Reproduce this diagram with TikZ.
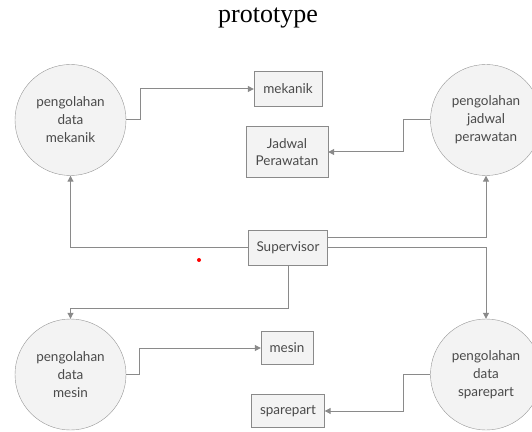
\documentclass[tikz,border=0pt]{standalone}
\usepackage{fontspec}
\setmainfont{Liberation Serif}
\newfontfamily\boxfont{Lato}
\usetikzlibrary{arrows.meta,positioning}
\definecolor{linegray}{HTML}{8A8A8A}
\definecolor{fillgray}{HTML}{F3F3F3}
\definecolor{textgray}{HTML}{4A4A4A}
\begin{document}
\begin{tikzpicture}[x=1pt, y=1pt, node distance={15mm},
    proc/.style = {draw=linegray!90, fill=fillgray, circle, minimum size=111pt, inner sep=0pt,
        align=center, text=textgray, font=\boxfont\fontsize{13.5}{18}\selectfont},
    store/.style = {draw=linegray, fill=fillgray, rectangle, inner sep=0pt, align=center,
        text=textgray, font=\boxfont\fontsize{13.5}{17}\selectfont},
    flow/.style = {draw=linegray, line width=1pt, -{Triangle[length=6pt, width=6pt]}}]
    \useasboundingbox (0,0) rectangle (532,431);
    \node[font=\fontsize{26}{30}\selectfont, anchor=base] (title) at (268,408) {prototype};

    \node[proc] (mekc) at (70.5,311) {pengolahan\\data\\mekanik};
    \node[proc] (jadc) at (486,311) {pengolahan\\jadwal\\perawatan};
    \node[proc] (mesc) at (70.5,56.5) {pengolahan\\data\\mesin};
    \node[proc] (spac) at (486,56.5) {pengolahan\\data\\sparepart};

    \node[store, minimum width=79pt, minimum height=35pt] (sup) at (288,183) {Supervisor};
    \node[store, minimum width=68pt, minimum height=35pt] (mek) at (288,342) {mekanik};
    \node[store, minimum width=82pt, minimum height=51pt] (jad) at (287,279) {Jadwal\\Perawatan};
    \node[store, minimum width=52pt, minimum height=33pt] (mes) at (287,83) {mesin};
    \node[store, minimum width=73pt, minimum height=33pt] (spa) at (288,20) {sparepart};

    \draw[flow] (mekc.east) -- ++(14,0) |- (mek.west);
    \draw[flow] (jadc.west) -- ++(-27,0) |- (jad.east);
    \draw[flow] (sup.west) -| (mekc.south);
    \draw[flow] ([yshift=10pt]sup.east) -| (jadc.south);
    \draw[flow] (sup.east) -| (spac.north);
    \draw[flow] (sup.south) -- ++(0,-42.5) -| (mesc.north);
    \draw[flow] (mesc.east) -- ++(13,0) |- (mes.west);
    \draw[flow] (spac.west) -- ++(-27,0) |- (spa.east);

    \fill[red] (199,171) circle (2pt);
\end{tikzpicture}
\end{document}
